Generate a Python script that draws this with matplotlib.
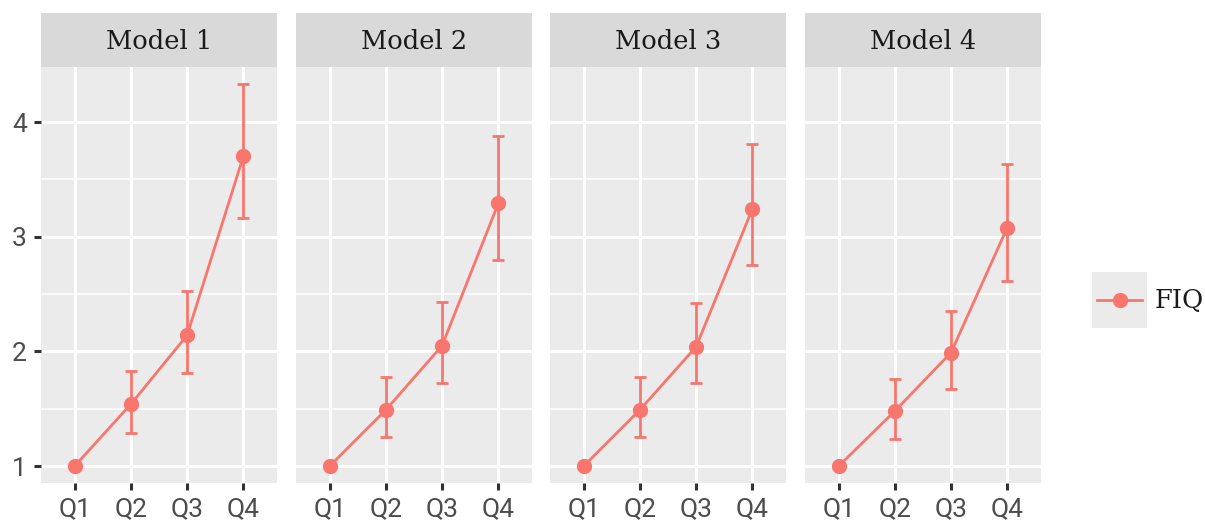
import numpy as np
import matplotlib.pyplot as plt
from matplotlib.lines import Line2D
from matplotlib.patches import Rectangle

models = ['Model 1', 'Model 2', 'Model 3', 'Model 4']
quartiles = ['Q1', 'Q2', 'Q3', 'Q4']

est = [[1.00, 1.54, 2.14, 3.70],
       [1.00, 1.49, 2.05, 3.29],
       [1.00, 1.49, 2.04, 3.24],
       [1.00, 1.48, 1.99, 3.08]]
low = [[1.00, 1.29, 1.81, 3.16],
       [1.00, 1.25, 1.72, 2.80],
       [1.00, 1.25, 1.72, 2.75],
       [1.00, 1.24, 1.67, 2.61]]
high = [[1.00, 1.83, 2.53, 4.33],
        [1.00, 1.78, 2.43, 3.88],
        [1.00, 1.78, 2.42, 3.81],
        [1.00, 1.76, 2.35, 3.63]]

col = '#F8766D'
W, H = 1205, 525
fig = plt.figure(figsize=(W/100, H/100), dpi=100)

lefts = [41, 296, 550, 805]
pw = 236
ptop, pbot, stop = 67, 483, 13

x = np.arange(1, 5)
for i, m in enumerate(models):
    ax = fig.add_axes([lefts[i]/W, (H-pbot)/H, pw/W, (pbot-ptop)/H])
    ax.set_facecolor('#EBEBEB')
    for s in ax.spines.values():
        s.set_visible(False)
    ax.set_xlim(0.4, 4.6)
    ax.set_ylim(0.852, 4.48)
    ax.set_yticks([1, 2, 3, 4])
    ax.set_yticks([1.5, 2.5, 3.5], minor=True)
    ax.set_xticks(x)
    ax.set_xticklabels(quartiles)
    ax.grid(True, which='major', color='white', lw=2.2)
    ax.grid(True, which='minor', axis='y', color='white', lw=1.1)
    ax.set_axisbelow(True)
    ax.tick_params(which='major', length=5, width=2.2, color='#333333',
                   labelsize=19, labelcolor='#4D4D4D', pad=5)
    for lab in ax.get_xticklabels() + ax.get_yticklabels():
        lab.set_family('Roboto')
    ax.tick_params(which='minor', length=0)
    if i > 0:
        ax.set_yticklabels([])
        ax.tick_params(axis='y', length=0)
    e = np.array(est[i]); lo = np.array(low[i]); hi = np.array(high[i])
    ax.errorbar(x, e, yerr=[e-lo, hi-e], fmt='none', ecolor=col,
                elinewidth=2.0, capsize=4, capthick=2.0)
    line, = ax.plot(x, e, color=col, lw=2.0, marker='o', markersize=10)

    sax = fig.add_axes([lefts[i]/W, (H-ptop)/H, pw/W, (ptop-stop)/H])
    sax.set_facecolor('#D9D9D9')
    sax.set_xticks([]); sax.set_yticks([])
    for s in sax.spines.values():
        s.set_visible(False)
    sax.text(0.5, 0.47, m, ha='center', va='center', fontsize=18.5,
             family='DejaVu Serif', color='#1A1A1A', transform=sax.transAxes)

# legend key
fig.patches.append(Rectangle((1092/W, (H-328)/H), 55/W, 56/H,
                             transform=fig.transFigure, facecolor='#EBEBEB',
                             edgecolor='none'))
fig.lines.append(Line2D([1097/W, 1142/W], [(H-300)/H, (H-300)/H],
                        transform=fig.transFigure, color=col, lw=2.0))
fig.lines.append(Line2D([1119.5/W], [(H-300)/H], transform=fig.transFigure,
                        color=col, marker='o', markersize=10, lw=0))
fig.text(1155/W, (H-300)/H, 'FIQ', ha='left', va='center', fontsize=18.5,
         family='DejaVu Serif', color='#1A1A1A')

fig.savefig('out.png', dpi=100)
